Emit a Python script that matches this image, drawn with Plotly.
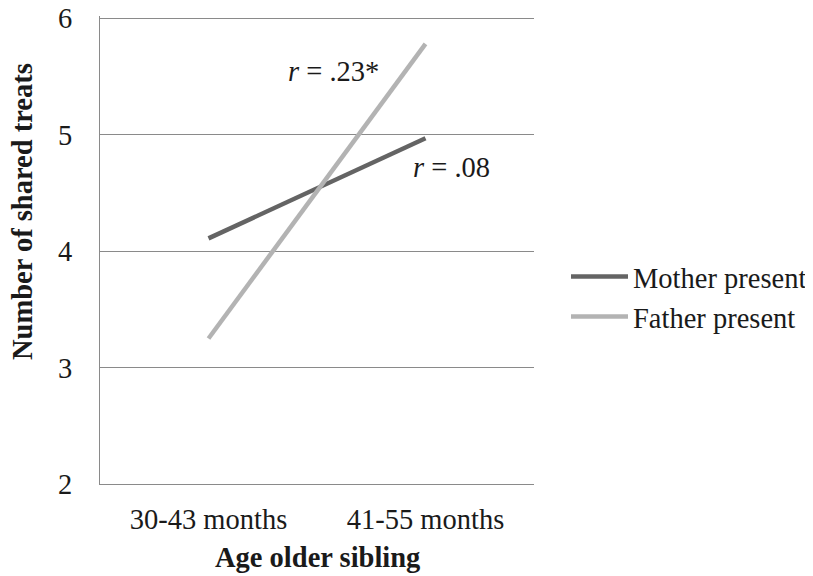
import plotly.graph_objects as go

categories = ["30-43 months", "41-55 months"]
mother = [4.11, 4.97]
father = [3.25, 5.78]
series_names = ["Mother present", "Father present"]
y_ticks = [2, 3, 4, 5, 6]

FONT = "Liberation Serif"
TXT = "#1a1a1a"
FS = 28.5

# page body has an 8px margin, so figure is sized/offset to compensate
OFF = 8
YMAX = 6.02          # tiny headroom so the gridline at 6 is drawn
L = 100 - OFF
W, H = 813 - OFF, 576 - OFF
PR, PB = 534 - OFF, 484 - OFF
top6 = 18.3 - OFF
PH = (PB - top6) * (YMAX - 2) / 4
T = PB - PH
PW = PR - L

def px_to_paper_y(y_abs):
    return (PB + OFF - y_abs) / PH

fig = go.Figure()
fig.add_trace(go.Scatter(x=categories, y=mother, name=series_names[0], mode="lines",
                         line=dict(color="#646464", width=4.5)))
fig.add_trace(go.Scatter(x=categories, y=father, name=series_names[1], mode="lines",
                         line=dict(color="#b3b3b3", width=4.5)))

fig.add_annotation(x=0.574, y=5.54, xref="x", yref="y", text="<i>r</i> = .23*",
                   showarrow=False, font=dict(family=FONT, size=FS, color=TXT))
fig.add_annotation(x=1.122, y=4.72, xref="x", yref="y", text="<i>r</i> = .08",
                   showarrow=False, font=dict(family=FONT, size=FS, color=TXT))

fig.add_annotation(x=(22 - 100) / PW, y=px_to_paper_y(212), xref="paper", yref="paper",
                   xanchor="center", yanchor="middle",
                   text="<b>Number of shared treats</b>", textangle=-90, showarrow=False,
                   font=dict(family=FONT, size=FS, color=TXT))
fig.add_annotation(x=0.5, y=px_to_paper_y(558), xref="paper", yref="paper",
                   xanchor="center", yanchor="middle",
                   text="<b>Age older sibling</b>", showarrow=False,
                   font=dict(family=FONT, size=FS, color=TXT))

fig.update_layout(
    width=W, height=H,
    margin=dict(l=L, r=W - PR, t=T, b=H - PB, autoexpand=False),
    paper_bgcolor="white", plot_bgcolor="white",
    font=dict(family=FONT, size=FS, color=TXT),
    showlegend=True,
    legend=dict(x=(566 - 100) / PW, y=px_to_paper_y(297), xanchor="left", yanchor="middle",
                font=dict(family=FONT, size=FS, color=TXT),
                itemwidth=57, tracegroupgap=0, bgcolor="rgba(0,0,0,0)"),
    xaxis=dict(type="category", range=[-0.5, 1.5], automargin=False, showgrid=False,
               showline=True, linecolor="#8a8a8a",
               linewidth=1.3, ticks="", tickfont=dict(family=FONT, size=FS, color=TXT),
               ticklabelstandoff=10),
    yaxis=dict(range=[2, YMAX], tickvals=y_ticks, automargin=False, showgrid=True,
               gridcolor="#8a8a8a", gridwidth=1.3, ticklabeloverflow="allow",
               showline=True, linecolor="#8a8a8a", linewidth=1.3, ticks="", zeroline=False,
               tickfont=dict(family=FONT, size=FS, color=TXT), ticklabelstandoff=21),
)

fig.write_html("out.html")
